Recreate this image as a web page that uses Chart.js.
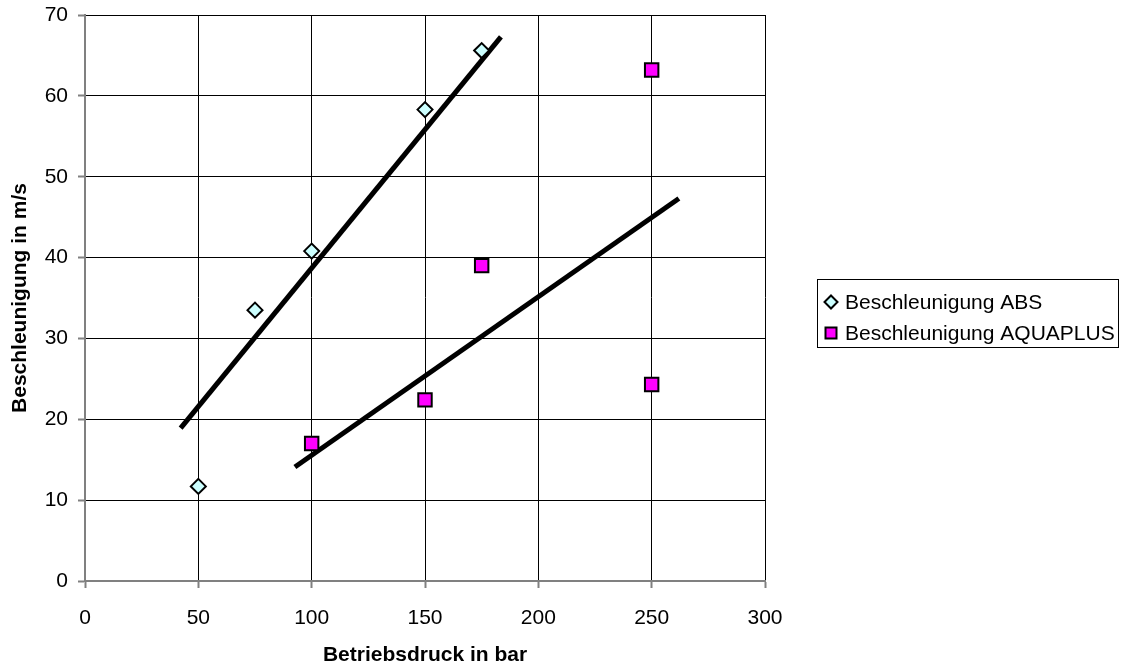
<!DOCTYPE html>
<html>
<head>
<meta charset="utf-8">
<script src="https://cdn.jsdelivr.net/npm/chart.js@4/dist/chart.umd.min.js"></script>
<style>
  html, body { margin: 0; padding: 0; background: #ffffff; }
  #wrap { position: relative; width: 1127px; height: 666px; }
</style>
</head>
<body>
<div id="wrap"><canvas id="c" width="1127" height="666"></canvas></div>
<script>
// ---- data ----
const absLabel = 'Beschleunigung ABS';
const aquaLabel = 'Beschleunigung AQUAPLUS';
const absX = [50, 75, 100, 150, 175];
const absY = [11.7, 33.5, 40.8, 58.3, 65.6];
const aquaX = [100, 150, 175, 250, 250];
const aquaY = [17.0, 22.4, 39.0, 63.2, 24.3];
const absTrendX = [42.2, 183.5];
const absTrendY = [18.9, 67.3];
const aquaTrendX = [92.6, 262.0];
const aquaTrendY = [14.1, 47.3];
const xTitle = 'Betriebsdruck in bar';
const yTitle = 'Beschleunigung in m/s';
const xMin = 0, xMax = 300, xStep = 50;
const yMin = 0, yMax = 70, yStep = 10;

const pts = (xs, ys) => xs.map((x, i) => ({ x: x, y: ys[i] }));
const FONT = "'Liberation Sans', Arial, sans-serif";

const legendPlugin = {
  id: 'boxLegend',
  afterDraw(chart) {
    const ctx = chart.ctx;
    const ds = chart.data.datasets;
    const box = { x: 817, y: 279, w: 301, h: 68 };
    ctx.save();
    ctx.fillStyle = '#ffffff';
    ctx.fillRect(box.x, box.y, box.w, box.h);
    ctx.strokeStyle = '#000000';
    ctx.lineWidth = 1;
    ctx.strokeRect(box.x + 0.5, box.y + 0.5, box.w, box.h);
    const rows = [ { ds: ds[0], cy: 302 }, { ds: ds[1], cy: 333 } ];
    ctx.font = '21px ' + FONT;
    ctx.textBaseline = 'middle';
    ctx.textAlign = 'left';
    rows.forEach(r => {
      const mx = 831, my = r.cy;
      ctx.lineWidth = 2;
      ctx.strokeStyle = '#000000';
      ctx.fillStyle = r.ds.backgroundColor;
      ctx.beginPath();
      if (r.ds.pointStyle === 'rectRot') {
        const s = 6.5;
        ctx.moveTo(mx, my - s); ctx.lineTo(mx + s, my); ctx.lineTo(mx, my + s); ctx.lineTo(mx - s, my); ctx.closePath();
      } else {
        const s = 5.5;
        ctx.rect(mx - s, my - s, 2 * s, 2 * s);
      }
      ctx.fill(); ctx.stroke();
      ctx.fillStyle = '#000000';
      ctx.fillText(r.ds.label, 845, my + 1);
    });
    ctx.restore();
  }
};

new Chart(document.getElementById('c'), {
  type: 'scatter',
  data: {
    datasets: [
      { label: absLabel, data: pts(absX, absY), pointStyle: 'rectRot', pointRadius: 7.5, pointHoverRadius: 7.5,
        backgroundColor: '#CCFFFF', borderColor: '#000000', borderWidth: 2, order: 0 },
      { label: aquaLabel, data: pts(aquaX, aquaY), pointStyle: 'rect', pointRadius: 9.5, pointHoverRadius: 9.5,
        backgroundColor: '#FF00FF', borderColor: '#000000', borderWidth: 2, order: 0 },
      { label: 'trend ABS', data: pts(absTrendX, absTrendY), showLine: true, pointRadius: 0,
        borderColor: '#000000', borderWidth: 5, borderCapStyle: 'butt', order: 1 },
      { label: 'trend AQUAPLUS', data: pts(aquaTrendX, aquaTrendY), showLine: true, pointRadius: 0,
        borderColor: '#000000', borderWidth: 5, borderCapStyle: 'butt', order: 1 }
    ]
  },
  options: {
    responsive: false,
    animation: false,
    devicePixelRatio: 1,
    layout: { padding: { left: 0, top: 15, right: 362, bottom: 0 } },
    plugins: { legend: { display: false }, tooltip: { enabled: false } },
    scales: {
      x: {
        type: 'linear', min: xMin, max: xMax,
        ticks: { stepSize: xStep, color: '#000000', padding: 18, font: { family: FONT, size: 21 } },
        grid: { color: '#000000', lineWidth: 1, tickLength: 7, tickColor: '#808080', tickWidth: 2 },
        border: { color: '#808080', width: 2 },
        title: { display: true, text: xTitle, color: '#000000', padding: { top: 0, bottom: 0 },
                 font: { family: FONT, size: 21, weight: 'bold', lineHeight: 1.0 } },
        afterFit(scale) { scale.height = 85; scale.paddingLeft = 0; scale.paddingRight = 0; }
      },
      y: {
        type: 'linear', min: yMin, max: yMax,
        ticks: { stepSize: yStep, color: '#000000', padding: 10, font: { family: FONT, size: 21 } },
        grid: { color: '#000000', lineWidth: 1, tickLength: 7, tickColor: '#808080', tickWidth: 2 },
        border: { color: '#808080', width: 2 },
        title: { display: true, text: yTitle, color: '#000000', padding: { top: 8, bottom: 0 },
                 font: { family: FONT, size: 21, weight: 'bold', lineHeight: 1.2 } },
        afterFit(scale) { scale.width = 85; scale.paddingTop = 0; scale.paddingBottom = 0; }
      }
    }
  },
  plugins: [legendPlugin]
});
</script>
</body>
</html>
